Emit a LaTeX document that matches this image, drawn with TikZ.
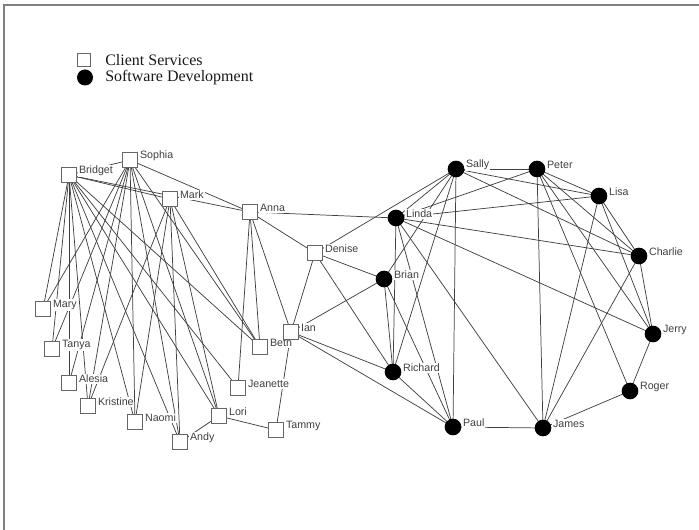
\documentclass[tikz,border=0pt]{standalone}
\usepackage{fontspec}
\setmainfont{Liberation Serif}
\newfontfamily\labelfont{Liberation Sans}
\pgfdeclarelayer{links}
\pgfsetlayers{links,main}
\begin{document}
\begin{tikzpicture}[x=0.75pt,y=-0.75pt,
  csbox/.style={rectangle,draw=black!60,fill=white,line width=0.75pt,minimum size=11pt,inner sep=0pt},
  sdbox/.style={circle,fill=black,minimum size=12.5pt,inner sep=0pt},
  lbl/.style={font=\labelfont\fontsize{8}{9}\selectfont,text=black!75,fill=white,inner sep=0.6pt,anchor=west},
  link/.style={draw=black!75,line width=0.55pt},
  legendtext/.style={font=\fontsize{12}{14}\selectfont,text=black!90,inner sep=0pt,anchor=base west}]
\useasboundingbox (0,0) rectangle (699,530);
% frame edges
\draw[black!50,line width=1pt] (4,530) -- (4,5) -- (699,5);

% legend
\node[csbox,minimum size=10pt] (legcs) at (84,60) {};
\node[legendtext] (legcstext) at (105,65.5) {Client Services};
\node[sdbox,minimum size=12pt] (legsd) at (85,77.5) {};
\node[legendtext] (legsdtext) at (105,82) {Software Development};

% people: shape, name, position, printed name
\newcommand\person[5]{%
  \node[#1] (#2) at (#3,#4) {};
  \node[lbl] (#2-name) at (#3+9,#4-4) {#5};}

% Client Services
\person{csbox}{bridget}{69}{175}{Bridget}
\person{csbox}{sophia}{130}{160}{Sophia}
\person{csbox}{mark}{170}{199}{Mark}
\person{csbox}{anna}{250}{212}{Anna}
\person{csbox}{denise}{315}{253}{Denise}
\person{csbox}{mary}{43}{309}{Mary}
\person{csbox}{tanya}{52}{349}{Tanya}
\person{csbox}{alesia}{69}{383}{Alesia}
\person{csbox}{kristine}{88}{406}{Kristine}
\person{csbox}{naomi}{135}{422}{Naomi}
\person{csbox}{andy}{180}{442}{Andy}
\person{csbox}{lori}{219}{416}{Lori}
\person{csbox}{tammy}{276}{430}{Tammy}
\person{csbox}{jeanette}{238}{388}{Jeanette}
\person{csbox}{beth}{260}{347}{Beth}
\person{csbox}{ian}{291}{332}{Ian}

% Software Development
\person{sdbox}{sally}{456}{169}{Sally}
\person{sdbox}{peter}{537}{169}{Peter}
\person{sdbox}{lisa}{599}{196}{Lisa}
\person{sdbox}{charlie}{639}{256}{Charlie}
\person{sdbox}{jerry}{653}{334}{Jerry}
\person{sdbox}{roger}{630}{391}{Roger}
\person{sdbox}{james}{543}{428}{James}
\person{sdbox}{paul}{453}{427}{Paul}
\person{sdbox}{richard}{393}{372}{Richard}
\person{sdbox}{brian}{384}{279}{Brian}
\person{sdbox}{linda}{396}{218}{Linda}

\begin{pgfonlayer}{links}
\foreach \a/\b in {
  bridget/sophia, bridget/mark, bridget/anna, bridget/mary, bridget/tanya,
  bridget/alesia, bridget/kristine, bridget/naomi, bridget/andy, bridget/lori,
  bridget/jeanette, bridget/beth,
  sophia/anna, sophia/mary, sophia/tanya, sophia/alesia, sophia/kristine,
  sophia/naomi, sophia/andy, sophia/lori, sophia/beth,
  mark/kristine, mark/naomi, mark/andy, mark/lori, mark/beth,
  anna/linda, anna/denise, anna/jeanette, anna/beth, anna/ian,
  denise/sally, denise/brian, denise/ian, denise/richard,
  ian/brian, ian/richard, ian/paul, ian/tammy,
  lori/andy, lori/tammy,
  sally/linda, sally/brian, sally/richard, sally/paul, sally/peter,
  sally/lisa, sally/charlie,
  linda/peter, linda/lisa, linda/charlie, linda/jerry, linda/james,
  linda/paul, linda/richard,
  brian/richard, brian/paul, richard/paul, paul/james,
  peter/lisa, peter/charlie, peter/jerry, peter/roger, peter/james,
  lisa/charlie, lisa/jerry, lisa/james,
  charlie/jerry, charlie/james, jerry/roger, roger/james}
  \draw[link] (\a.center) -- (\b.center);
\end{pgfonlayer}
\end{tikzpicture}
\end{document}
